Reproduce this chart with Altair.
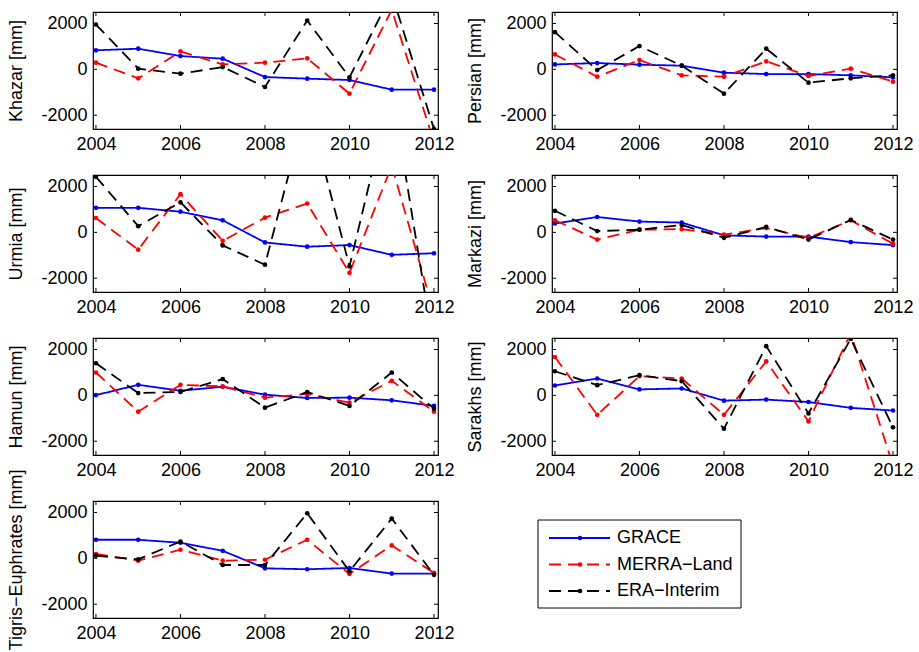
import altair as alt
import pandas as pd

# ---------------- data ----------------
years = [2004, 2005, 2006, 2007, 2008, 2009, 2010, 2011, 2012]
panels = ["Khazar", "Persian", "Urmia", "Markazi", "Hamun", "Sarakhs", "Tigris−Euphrates"]
series = ["GRACE", "MERRA−Land", "ERA−Interim"]

khazar_grace = [830, 900, 580, 465, -335, -405, -465, -885, -885]
khazar_merra = [290, -390, 780, 215, 290, 480, -1060, 2600, -3170]
khazar_era = [1955, 30, -190, 100, -770, 2130, -350, 3300, -2600]

persian_grace = [215, 275, 205, 160, -145, -205, -205, -260, -350]
persian_merra = [650, -320, 405, -260, -320, 350, -290, 30, -535]
persian_era = [1620, -30, 1015, 160, -1060, 900, -580, -390, -260]

urmia_grace = [1070, 1070, 900, 525, -440, -625, -555, -980, -910]
urmia_merra = [625, -755, 1665, -370, 640, 1255, -1765, 2900, -3500]
urmia_era = [2420, 270, 1310, -570, -1410, 5600, -1480, 6200, -5100]

markazi_grace = [385, 670, 470, 425, -130, -185, -185, -425, -555]
markazi_merra = [525, -315, 115, 140, -100, 185, -240, 525, -500]
markazi_era = [940, 55, 115, 325, -240, 240, -315, 540, -315]

hamun_grace = [10, 460, 200, 375, 30, -115, -100, -215, -460]
hamun_merra = [995, -710, 460, 390, -100, 60, -320, 635, -710]
hamun_era = [1400, 100, 145, 710, -535, 145, -460, 995, -580]

sarakhs_grace = [430, 735, 260, 300, -230, -185, -290, -545, -660]
sarakhs_merra = [1670, -850, 835, 735, -850, 1480, -1135, 2700, -3050]
sarakhs_era = [1050, 445, 880, 620, -1455, 2145, -790, 2460, -1395]

tigris_grace = [810, 810, 680, 330, -435, -475, -420, -665, -665]
tigris_merra = [190, -100, 375, -100, -60, 810, -680, 565, -635]
tigris_era = [115, -45, 735, -290, -290, 1965, -565, 1735, -720]

x_tick_values = [2004, 2006, 2008, 2010, 2012]
y_tick_values = [-2000, 0, 2000]

panel_values = {
    "Khazar": [khazar_grace, khazar_merra, khazar_era],
    "Persian": [persian_grace, persian_merra, persian_era],
    "Urmia": [urmia_grace, urmia_merra, urmia_era],
    "Markazi": [markazi_grace, markazi_merra, markazi_era],
    "Hamun": [hamun_grace, hamun_merra, hamun_era],
    "Sarakhs": [sarakhs_grace, sarakhs_merra, sarakhs_era],
    "Tigris−Euphrates": [tigris_grace, tigris_merra, tigris_era],
}

rows = []
for p in panels:
    for s, vals in zip(series, panel_values[p]):
        for yr, v in zip(years, vals):
            rows.append({"panel": p, "series": s, "year": yr, "value": v})
df = pd.DataFrame(rows)

xtick_df = pd.DataFrame({"year": x_tick_values})
ytick_df = pd.DataFrame({"value": y_tick_values})

# ---------------- styles ----------------
W, H = 345, 117
TICK = 4
colors = {"GRACE": "#0000ff", "MERRA−Land": "#ff0000", "ERA−Interim": "#000000"}
dashes = {"GRACE": [1, 0], "MERRA−Land": [12, 7], "ERA−Interim": [12, 7]}
FONT = "Liberation Sans"


def make_panel(name):
    xenc = alt.X(
        "year:Q",
        scale=alt.Scale(domain=[2003.93, 2012.095], nice=False, zero=False),
        axis=alt.Axis(values=x_tick_values, format="d", title=None, labelFlush=False),
    )
    yenc = alt.Y(
        "value:Q",
        scale=alt.Scale(domain=[-2600, 2500], nice=False, zero=False),
        axis=alt.Axis(values=y_tick_values, title=f"{name} [mm]",
                      labelExpr="'' + datum.value"),
    )
    sub = df[df["panel"] == name]
    layers = []
    for s in series:
        base = alt.Chart(sub).transform_filter(alt.datum.series == s)
        layers.append(
            base.mark_line(clip=True, color=colors[s], strokeDash=dashes[s], strokeWidth=1.8)
            .encode(x=xenc, y=yenc)
        )
        layers.append(
            base.mark_circle(clip=True, color=colors[s], size=22, opacity=1)
            .encode(x=xenc, y=yenc)
        )
    # inward ticks on the four sides
    yt = alt.Chart(ytick_df)
    xt = alt.Chart(xtick_df)
    layers.append(yt.mark_rule(color="black", strokeWidth=1).encode(
        y=yenc, x=alt.value(0), x2=alt.value(TICK)))
    layers.append(yt.mark_rule(color="black", strokeWidth=1).encode(
        y=yenc, x=alt.value(W - TICK), x2=alt.value(W)))
    layers.append(xt.mark_rule(color="black", strokeWidth=1).encode(
        x=xenc, y=alt.value(H - TICK), y2=alt.value(H)))
    layers.append(xt.mark_rule(color="black", strokeWidth=1).encode(
        x=xenc, y=alt.value(0), y2=alt.value(TICK)))
    return alt.layer(*layers).properties(width=W, height=H)


def make_legend():
    leg_df = pd.DataFrame({"series": series})
    yenc = alt.Y("series:N",
                 scale=alt.Scale(type="point", domain=series, range=[37, 90],
                                 padding=0, paddingOuter=0),
                 axis=None)
    layers = [
        alt.Chart(pd.DataFrame({"box": [0]})).mark_rect(
            fillOpacity=0, stroke="black", strokeWidth=1
        ).encode(x=alt.value(-14), x2=alt.value(189), y=alt.value(19), y2=alt.value(107))
    ]
    for s in series:
        base = alt.Chart(leg_df).transform_filter(alt.datum.series == s)
        layers.append(base.mark_rule(color=colors[s], strokeDash=dashes[s], strokeWidth=1.8)
                      .encode(y=yenc, x=alt.value(-3), x2=alt.value(58)))
        layers.append(base.mark_circle(color=colors[s], size=22, opacity=1)
                      .encode(y=yenc, x=alt.value(28)))
    layers.append(
        alt.Chart(leg_df).mark_text(align="left", baseline="middle", fontSize=18,
                                    font=FONT, color="black")
        .encode(y=yenc, x=alt.value(65), text="series:N")
    )
    return alt.layer(*layers).properties(width=W, height=H, view=alt.ViewConfig(stroke="transparent"))


cells = [make_panel(p) for p in panels] + [make_legend()]

chart = (
    alt.concat(*cells, columns=2, spacing={"row": 46, "column": 114}, bounds="flush")
    .properties(padding={"left": 7, "top": 10, "right": 5, "bottom": 5}, background="white")
    .configure(font=FONT)
    .configure_view(stroke="black", strokeWidth=1.2)
    .configure_axis(
        labelFontSize=18, titleFontSize=18, titleFontWeight="normal",
        labelColor="black", titleColor="black", ticks=False, domain=False, grid=False,
        labelPadding=6, titlePadding=15, labelFont=FONT, titleFont=FONT,
    )
)

chart.save("out.html", embed_options={"renderer": "svg", "actions": False})
